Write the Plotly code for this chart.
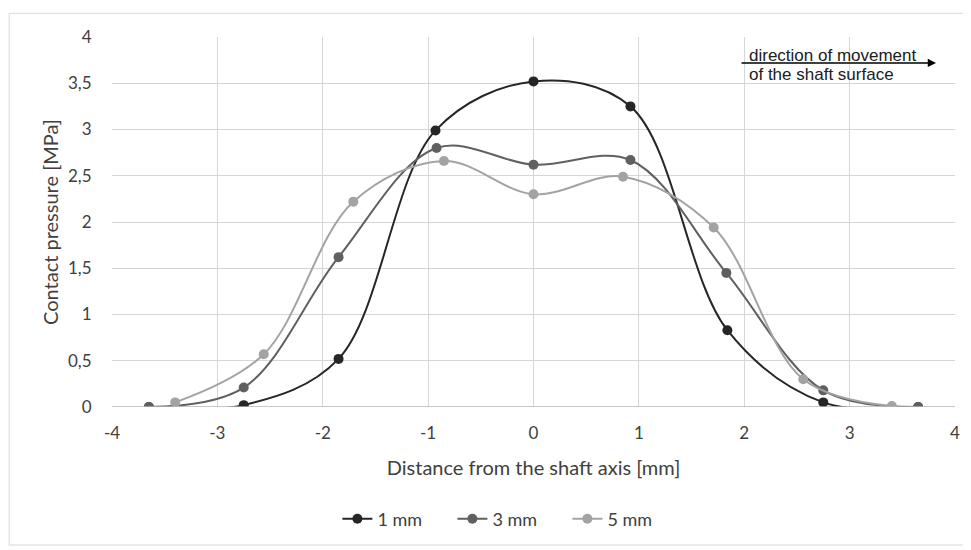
import plotly.graph_objects as go

x_1mm = [-3.65, -2.75, -1.85, -0.93, 0.0, 0.92, 1.84, 2.75, 3.65]
y_1mm = [0.0, 0.02, 0.52, 2.99, 3.52, 3.25, 0.83, 0.05, 0.0]
x_3mm = [-3.65, -2.75, -1.85, -0.92, 0.0, 0.92, 1.83, 2.75, 3.65]
y_3mm = [0.0, 0.21, 1.62, 2.80, 2.62, 2.67, 1.45, 0.18, 0.0]
x_5mm = [-3.40, -2.56, -1.71, -0.85, 0.0, 0.85, 1.71, 2.56, 3.40]
y_5mm = [0.05, 0.57, 2.22, 2.66, 2.30, 2.49, 1.94, 0.30, 0.01]

series = [("1 mm", x_1mm, y_1mm, "#262626"),
          ("3 mm", x_3mm, y_3mm, "#606060"),
          ("5 mm", x_5mm, y_5mm, "#a3a3a3")]

y_ticks = [0, 0.5, 1, 1.5, 2, 2.5, 3, 3.5, 4]
y_ticktext = ["0", "0,5", "1", "1,5", "2", "2,5", "3", "3,5", "4"]
x_ticks = [-4, -3, -2, -1, 0, 1, 2, 3, 4]
x_ticktext = ["-4", "-3", "-2", "-1", "0", "1", "2", "3", "4"]

fig = go.Figure()
for name, xs, ys, col in series:
    fig.add_trace(go.Scatter(x=xs, y=ys, name=name, mode="lines+markers",
                             line=dict(color=col, width=2, shape="spline", smoothing=1),
                             marker=dict(color=col, size=10)))

font = "Lato, Open Sans, sans-serif"
# page body adds an 8px margin, so the figure is 8px smaller and offsets reduced
fig.update_layout(
    width=963, height=542,
    margin=dict(l=104, r=16, t=29, b=140),
    paper_bgcolor="white", plot_bgcolor="white",
    font=dict(family=font, size=17, color="#404040"),
    showlegend=True,
    legend=dict(orientation="h", x=0.472, xanchor="center", y=-0.303, yanchor="middle",
                entrywidth=70, entrywidthmode="pixels",
                font=dict(size=18, color="#404040")),
    xaxis=dict(range=[-4, 4], tickvals=x_ticks, ticktext=x_ticktext, showgrid=True,
               gridcolor="#d6d6d6", zeroline=False, showline=False, automargin=False,
               ticks="outside", ticklen=11, tickcolor="rgba(0,0,0,0)",
               tickfont=dict(size=17, color="#404040"),
               title=dict(text="Distance from the shaft axis [mm]",
                          font=dict(size=20, color="#404040"), standoff=18)),
    yaxis=dict(range=[0, 4], tickvals=y_ticks, ticktext=y_ticktext, showgrid=True,
               gridcolor="#d6d6d6", zeroline=False, automargin=False,
               ticks="outside", ticklen=16, tickcolor="rgba(0,0,0,0)",
               tickfont=dict(size=17, color="#404040"),
               title=dict(text="Contact pressure [MPa]", font=dict(size=20, color="#404040"),
                          standoff=4)),
)
fig.add_shape(type="line", xref="paper", yref="y", x0=0, x1=1, y0=0, y1=0,
              line=dict(color="#b5b5b5", width=1.5))
fig.add_shape(type="rect", xref="paper", yref="paper", x0=-0.122, x1=1.0154, y0=-0.373, y1=1.064,
              line=dict(color="#d9d9d9", width=1))
fig.add_annotation(x=3.82, y=3.72, ax=1.96, ay=3.72, xref="x", yref="y", axref="x", ayref="y",
                   showarrow=True, arrowhead=2, arrowsize=1.1, arrowwidth=1.5, arrowcolor="black", text="")
fig.add_annotation(x=2.03, y=3.80, xref="x", yref="y", xanchor="left", yanchor="middle",
                   text="direction of movement", showarrow=False,
                   font=dict(family="Liberation Sans, Arial", size=17, color="#202020"))
fig.add_annotation(x=2.03, y=3.59, xref="x", yref="y", xanchor="left", yanchor="middle",
                   text="of the shaft surface", showarrow=False,
                   font=dict(family="Liberation Sans, Arial", size=17, color="#202020"))
fig.write_html("out.html")
